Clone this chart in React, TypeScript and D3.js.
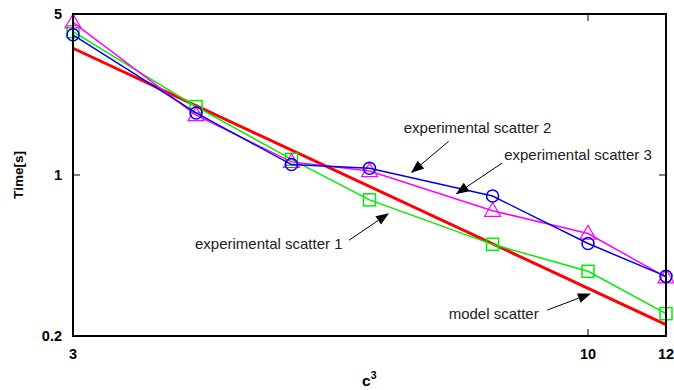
import * as d3 from "d3";

// c^3 values on the x axis
const sizes = [3, 4, 5, 6, 8, 10, 12];
const scatter1 = [4.19, 1.98, 1.17, 0.78, 0.5, 0.382, 0.25];
const scatter2 = [4.06, 1.86, 1.11, 1.07, 0.81, 0.504, 0.363];
const scatter3 = [4.6, 1.82, 1.14, 1.04, 0.7, 0.557, 0.36];
const modelX = [3, 12];
const modelY = [3.55, 0.224];

const xTicks = [3, 10, 12];
const yTicks = [0.2, 1, 5];

// text, text anchor point (data coords), arrow tail/head (data coords)
const notes = [
  { label: "experimental scatter 2", at: [6.5, 1.6], from: [7.22, 1.4], to: [6.61, 1.02] },
  { label: "experimental scatter 3", at: [8.22, 1.22], from: [8.18, 1.126], to: [7.34, 0.825] },
  { label: "experimental scatter 1", at: [3.99, 0.505], from: [5.72, 0.521], to: [6.28, 0.683] },
  { label: "model scatter", at: [7.22, 0.251], from: [9.09, 0.259], to: [10.07, 0.306] },
];

const W = 674;
const H = 390;
const m = { left: 73, right: 8, top: 14, bottom: 54 };

export default function App() {
  const x = d3.scaleLog().domain([3, 12]).range([m.left, W - m.right]);
  const y = d3.scaleLog().domain([0.2, 5]).range([H - m.bottom, m.top]);

  const line = d3
    .line<number>()
    .x((_, i) => x(sizes[i]))
    .y((d) => y(d));

  const series = [
    { values: scatter1, color: "#00ee00", marker: "square" },
    { values: scatter3, color: "#ff00ff", marker: "triangle" },
    { values: scatter2, color: "#0000ee", marker: "circle" },
  ];

  const marker = (kind: string, cx: number, cy: number, color: string, key: string) => {
    if (kind === "square")
      return <rect key={key} x={cx - 6} y={cy - 6} width={12} height={12} fill="none" stroke={color} strokeWidth={1.5} />;
    if (kind === "circle")
      return <circle key={key} cx={cx} cy={cy} r={6} fill="none" stroke={color} strokeWidth={1.5} />;
    const tri = d3.symbol(d3.symbolTriangle, 110)();
    return <path key={key} d={tri || ""} transform={`translate(${cx},${cy + 1})`} fill="none" stroke={color} strokeWidth={1.2} />;
  };

  const arrow = (from: number[], to: number[], key: string) => {
    const x1 = x(from[0]), y1 = y(from[1]);
    const x2 = x(to[0]), y2 = y(to[1]);
    const ang = Math.atan2(y2 - y1, x2 - x1);
    const len = 13, half = 5;
    const bx = x2 - len * Math.cos(ang), by = y2 - len * Math.sin(ang);
    const p1 = [bx + half * Math.sin(ang), by - half * Math.cos(ang)];
    const p2 = [bx - half * Math.sin(ang), by + half * Math.cos(ang)];
    return (
      <g key={key}>
        <line x1={x1} y1={y1} x2={bx} y2={by} stroke="#000" strokeWidth={1} />
        <path d={`M${x2},${y2}L${p1[0]},${p1[1]}L${p2[0]},${p2[1]}Z`} fill="#000" />
      </g>
    );
  };

  const x0 = m.left, x1 = W - m.right, y0 = H - m.bottom, y1 = m.top;

  return (
    <svg width={W} height={H} style={{ position: "absolute", left: 0, top: 0, background: "#fff" }} fontFamily="'Liberation Sans', Arial, sans-serif">
      {/* model line */}
      <path
        d={d3.line<number>().x((_, i) => x(modelX[i])).y((d) => y(d))(modelY) || ""}
        fill="none"
        stroke="#ff0000"
        strokeWidth={3}
      />
      {series.map((s, si) => (
        <g key={si}>
          <path d={line(s.values) || ""} fill="none" stroke={s.color} strokeWidth={1.5} />
          {s.values.map((v, i) => marker(s.marker, x(sizes[i]), y(v), s.color, `${si}-${i}`))}
        </g>
      ))}

      {/* frame */}
      <rect x={x0} y={y1} width={x1 - x0} height={y0 - y1} fill="none" stroke="#000" strokeWidth={2} />

      {/* ticks */}
      {xTicks.map((t) => (
        <g key={`xt${t}`}>
          <line x1={x(t)} x2={x(t)} y1={y0} y2={y0 - 7} stroke="#000" strokeWidth={1} />
          <line x1={x(t)} x2={x(t)} y1={y1} y2={y1 + 7} stroke="#000" strokeWidth={1} />
          <text x={x(t)} y={358.5} textAnchor="middle" fontSize={14.5} fontWeight="bold" fill="#000">
            {t}
          </text>
        </g>
      ))}
      {yTicks.map((t) => (
        <g key={`yt${t}`}>
          <line x1={x0} x2={x0 + 7} y1={y(t)} y2={y(t)} stroke="#000" strokeWidth={1} />
          <line x1={x1} x2={x1 - 7} y1={y(t)} y2={y(t)} stroke="#000" strokeWidth={1} />
          <text x={62} y={y(t)} dy="0.35em" textAnchor="end" fontSize={14.5} fontWeight="bold" fill="#000">
            {t}
          </text>
        </g>
      ))}

      {/* axis titles */}
      <text transform={`translate(23,${(y0 + y1) / 2}) rotate(-90)`} textAnchor="middle" fontSize={13.5} fontWeight="bold" fill="#000">
        Time[s]
      </text>
      <text x={362} y={386} fontSize={15.5} fontWeight="bold" fill="#000">
        c<tspan dy={-7} fontSize={10.5}>3</tspan>
      </text>

      {/* annotations */}
      {notes.map((n, i) => (
        <g key={`n${i}`}>
          <text x={x(n.at[0])} y={y(n.at[1])} dy="0.35em" fontSize={15} fill="#222">
            {n.label}
          </text>
          {arrow(n.from, n.to, `a${i}`)}
        </g>
      ))}
    </svg>
  );
}
